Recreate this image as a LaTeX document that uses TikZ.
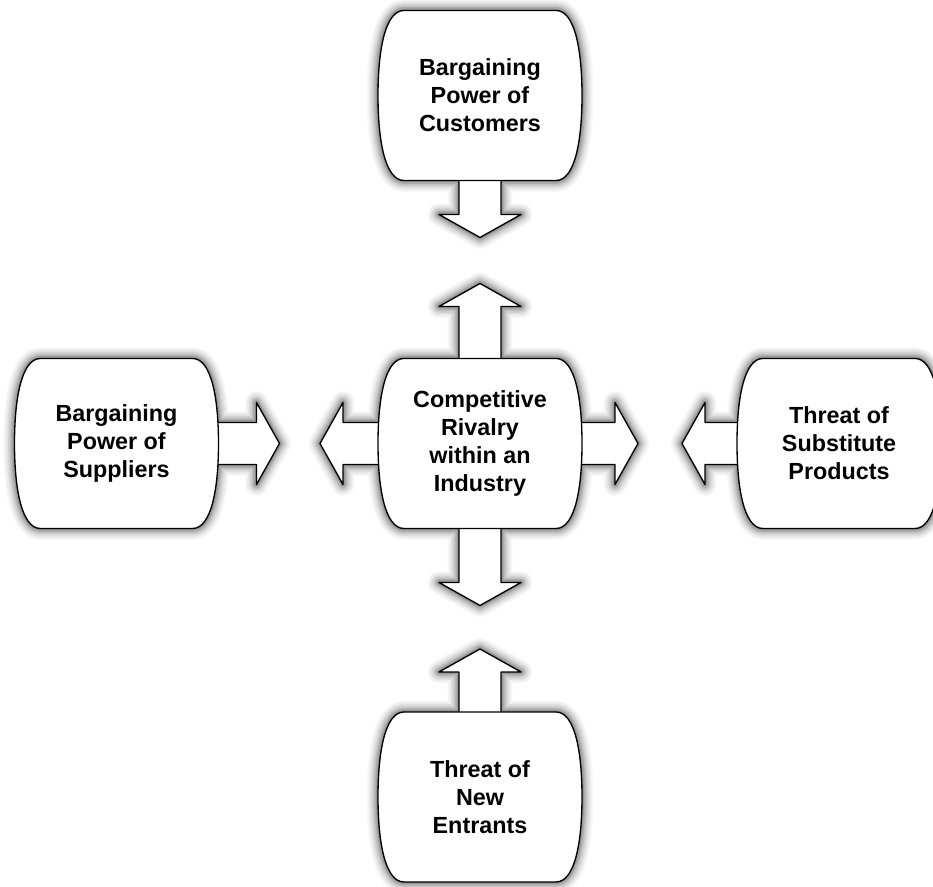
\documentclass[tikz,border=0pt]{standalone}
\usepackage{fontspec}
\setmainfont{Liberation Sans}

\pgfdeclarelayer{paper}
\pgfdeclarelayer{shade}
\pgfdeclarelayer{arrowlayer}
\pgfdeclarelayer{boxlayer}
\pgfsetlayers{paper,shade,arrowlayer,boxlayer,main}

% barrel-shaped box around a named node (straight top/bottom, bulging sides)
\newcommand\barrelshape[2]{%
  \path[#2, shift={(#1.center)}]
    (-76,85) -- (76,85)
    .. controls (95,85) and (102,45) .. (102,0)
    .. controls (102,-45) and (95,-85) .. (76,-85)
    -- (-76,-85)
    .. controls (-95,-85) and (-102,-45) .. (-102,0)
    .. controls (-102,45) and (-95,85) .. (-76,85) -- cycle;}

% wide block arrow leaving an anchor: #2 direction, #3 shaft length
\newcommand\blockarrow[4]{%
  \path[#4, shift={(#1)}, rotate=#2]
    (-6,21) -- (#3,21) -- (#3,41) -- ({#3+23},0) -- (#3,-41)
    -- (#3,-21) -- (-6,-21) -- cycle;}

% every shape of the diagram, in one style
\newcommand\allshapes[1]{%
  \foreach \n in {cust,rival,supp,subst,entr}{\barrelshape{\n}{#1}}
  \blockarrow{cust.south}{270}{34}{#1}
  \blockarrow{rival.north}{90}{52}{#1}
  \blockarrow{rival.south}{270}{54}{#1}
  \blockarrow{entr.north}{90}{40}{#1}
  \blockarrow{supp.east}{0}{38}{#1}
  \blockarrow{rival.west}{180}{35}{#1}
  \blockarrow{rival.east}{0}{33}{#1}
  \blockarrow{subst.west}{180}{32}{#1}}

\tikzset{
  force/.style={minimum width=153pt, minimum height=127.5pt, inner sep=0pt,
    outer sep=0pt, align=center,
    font=\fontsize{17.5}{21}\selectfont\bfseries},
  outline/.style={draw=black, line width=1pt, fill=white, line join=round},
  % one ring of the soft drop shadow: half-width #1, darkness #2
  shadowring/.style 2 args={shift={(2.5,-7)}, fill=black!#2, draw=black!#2,
    line width=#1, line join=round},
}

\begin{document}
\begin{tikzpicture}[x=0.75pt, y=0.75pt]
  \begin{pgfonlayer}{paper}
    \fill[white] (0,0) rectangle (933,887);
  \end{pgfonlayer}
  \useasboundingbox (0,0) rectangle (933,887);

  % labels
  \node[force] (cust)  at (480,791.5) {Bargaining\\Power of\\Customers};
  \node[force] (rival) at (480,443.5) {Competitive\\Rivalry\\within an\\Industry};
  \node[force] (supp)  at (116.5,443.5) {Bargaining\\Power of\\Suppliers};
  \node[force] (subst) at (839,443.5) {Threat of\\Substitute\\Products};
  \node[force] (entr)  at (480,90) {Threat of\\New\\Entrants};

  % soft shadows, from the faint outer ring inwards
  \begin{pgfonlayer}{shade}
    \foreach \w/\p in {17pt/3, 14.5pt/7, 12pt/12, 9.5pt/18, 7pt/25,
                       5pt/32, 3pt/40, 1pt/48, 0.1pt/54}{
      \allshapes{shadowring={\w}{\p}}}
  \end{pgfonlayer}

  % block arrows
  \begin{pgfonlayer}{arrowlayer}
    \blockarrow{cust.south}{270}{34}{outline}
    \blockarrow{rival.north}{90}{52}{outline}
    \blockarrow{rival.south}{270}{54}{outline}
    \blockarrow{entr.north}{90}{40}{outline}
    \blockarrow{supp.east}{0}{38}{outline}
    \blockarrow{rival.west}{180}{35}{outline}
    \blockarrow{rival.east}{0}{33}{outline}
    \blockarrow{subst.west}{180}{32}{outline}
  \end{pgfonlayer}

  % boxes
  \begin{pgfonlayer}{boxlayer}
    \foreach \n in {cust,rival,supp,subst,entr}{\barrelshape{\n}{outline}}
  \end{pgfonlayer}
\end{tikzpicture}
\end{document}
